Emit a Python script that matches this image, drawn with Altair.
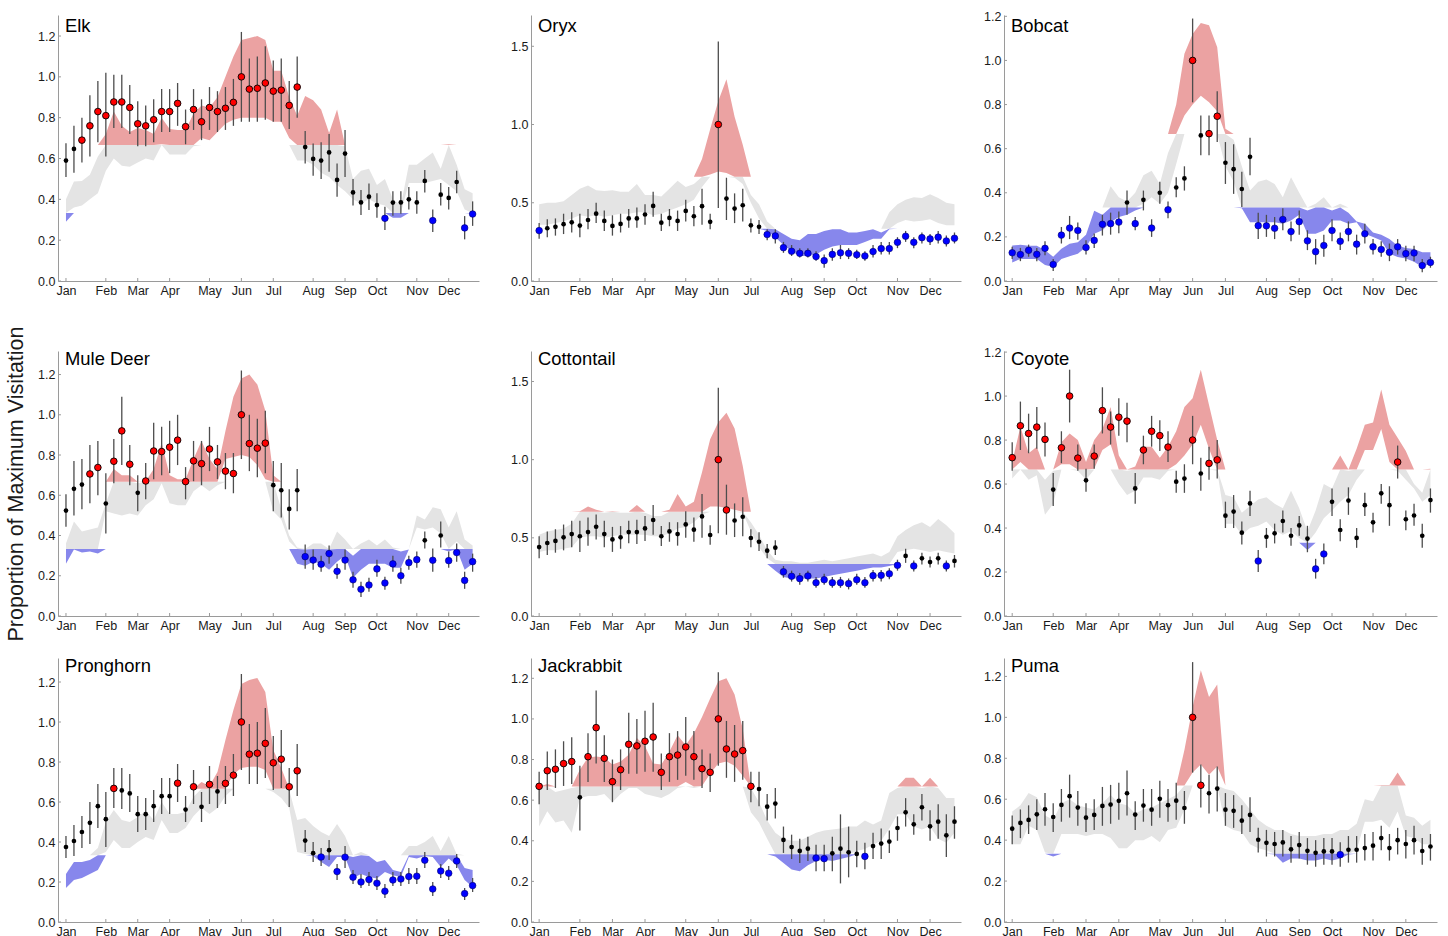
import altair as alt
import numpy as np
import pandas as pd

FONT = "Liberation Sans"
TEXT_COLOR = "#1a1a1a"
AXIS_COLOR = "#9a9a9a"
GREY_FILL = "#e4e4e4"
RED_FILL = "#eba2a2"
BLUE_FILL = "#8787ec"
BAR_COLOR = "#4d4d4d"

WEEKS = list(range(1, 53))
MONTHS = ["Jan", "Feb", "Mar", "Apr", "May", "Jun", "Jul", "Aug", "Sep", "Oct", "Nov", "Dec"]
MONTH_WEEKS = [1, 6, 10, 14, 19, 23, 27, 32, 36, 40, 45, 49]
X_MAX = 52.8
LOW_CUT = 1 / 3
HIGH_CUT = 2 / 3
Y_TICKS_FINE = [0.0, 0.2, 0.4, 0.6, 0.8, 1.0, 1.2]
Y_TICKS_COARSE = [0.0, 0.5, 1.0, 1.5]

# ---------------- Elk ----------------
ELK_RATE = [0.59, 0.647, 0.69, 0.76, 0.83, 0.81, 0.877, 0.877, 0.85, 0.77,
            0.76, 0.79, 0.83, 0.83, 0.87, 0.756, 0.84, 0.78, 0.85, 0.83,
            0.846, 0.875, 1.0, 0.94, 0.944, 0.97, 0.93, 0.935, 0.86, 0.95,
            0.656, 0.598, 0.59, 0.63, 0.495, 0.624, 0.434, 0.385, 0.413, 0.372,
            0.307, 0.384, 0.385, 0.40, 0.385, 0.49, 0.296, 0.423, 0.407, 0.485,
            0.26, 0.328]
ELK_ERR_LO = [0.51, 0.53, 0.58, 0.61, 0.68, 0.61, 0.75, 0.75, 0.72, 0.66,
              0.66, 0.68, 0.73, 0.73, 0.76, 0.67, 0.74, 0.69, 0.74, 0.73,
              0.74, 0.76, 0.78, 0.78, 0.78, 0.79, 0.78, 0.78, 0.745, 0.80,
              0.576, 0.516, 0.50, 0.535, 0.413, 0.51, 0.37, 0.323, 0.348, 0.31,
              0.25, 0.32, 0.33, 0.35, 0.33, 0.434, 0.24, 0.37, 0.35, 0.43,
              0.204, 0.27]
ELK_ERR_HI = [0.675, 0.76, 0.80, 0.91, 0.98, 1.02, 1.01, 1.01, 0.96, 0.88,
              0.86, 0.89, 0.94, 0.94, 0.97, 0.84, 0.94, 0.89, 0.95, 0.93,
              0.95, 0.99, 1.22, 1.09, 1.10, 1.15, 1.08, 1.09, 0.98, 1.10,
              0.735, 0.674, 0.68, 0.72, 0.576, 0.74, 0.50, 0.446, 0.478, 0.43,
              0.364, 0.44, 0.44, 0.46, 0.44, 0.544, 0.35, 0.48, 0.46, 0.54,
              0.318, 0.39]
ELK_BAND_LO = [0.29, 0.36, 0.37, 0.40, 0.43, 0.54, 0.60, 0.565, 0.56, 0.58,
               0.60, 0.59, 0.67, 0.62, 0.62, 0.62, 0.66, 0.70, 0.69, 0.73,
               0.77, 0.79, 0.80, 0.80, 0.80, 0.80, 0.78, 0.78, 0.70, 0.59,
               0.59, 0.57, 0.53, 0.51, 0.47, 0.44, 0.40, 0.38, 0.40, 0.38,
               0.37, 0.31, 0.31, 0.48, 0.48, 0.48, 0.49, 0.50, 0.47, 0.44,
               0.35, 0.33]
ELK_BAND_HI = [0.40, 0.487, 0.49, 0.52, 0.61, 0.72, 0.83, 0.76, 0.73, 0.75,
               0.74, 0.72, 0.80, 0.745, 0.74, 0.74, 0.82, 0.86, 0.85, 0.90,
               1.0, 1.1, 1.18, 1.19, 1.20, 1.18, 1.03, 1.03, 0.90, 0.81,
               0.906, 0.886, 0.84, 0.725, 0.84, 0.66, 0.50, 0.54, 0.55, 0.47,
               0.50, 0.40, 0.37, 0.57, 0.57, 0.60, 0.63, 0.55, 0.67, 0.57,
               0.45, 0.43]

# ---------------- Oryx ----------------
ORYX_RATE = [0.322, 0.337, 0.346, 0.363, 0.375, 0.354, 0.39, 0.43, 0.384, 0.352,
             0.365, 0.40, 0.40, 0.425, 0.48, 0.373, 0.403, 0.384, 0.448, 0.414,
             0.478, 0.378, 1.0, 0.527, 0.463, 0.484, 0.356, 0.346, 0.297, 0.288,
             0.213, 0.19, 0.177, 0.177, 0.156, 0.13, 0.17, 0.18, 0.177, 0.168,
             0.16, 0.188, 0.207, 0.207, 0.247, 0.286, 0.247, 0.277, 0.269, 0.28,
             0.256, 0.273]
ORYX_ERR_LO = [0.27, 0.28, 0.29, 0.30, 0.31, 0.28, 0.33, 0.37, 0.32, 0.29,
               0.31, 0.34, 0.34, 0.36, 0.41, 0.32, 0.35, 0.32, 0.38, 0.35,
               0.36, 0.33, 0.467, 0.39, 0.37, 0.38, 0.31, 0.30, 0.26, 0.24,
               0.18, 0.16, 0.15, 0.15, 0.13, 0.085, 0.13, 0.14, 0.14, 0.14,
               0.13, 0.15, 0.17, 0.17, 0.21, 0.25, 0.21, 0.24, 0.23, 0.24,
               0.22, 0.24]
ORYX_ERR_HI = [0.37, 0.395, 0.40, 0.43, 0.44, 0.43, 0.46, 0.50, 0.45, 0.42,
               0.43, 0.46, 0.47, 0.49, 0.57, 0.43, 0.46, 0.45, 0.52, 0.48,
               0.59, 0.43, 1.53, 0.66, 0.56, 0.59, 0.40, 0.39, 0.33, 0.33,
               0.25, 0.23, 0.21, 0.21, 0.19, 0.17, 0.21, 0.23, 0.21, 0.20,
               0.19, 0.23, 0.25, 0.25, 0.28, 0.32, 0.28, 0.31, 0.30, 0.32,
               0.29, 0.31]
ORYX_BAND_LO = [0.36, 0.36, 0.37, 0.38, 0.40, 0.42, 0.41, 0.42, 0.41, 0.42,
                0.43, 0.43, 0.44, 0.44, 0.42, 0.43, 0.45, 0.47, 0.49, 0.52,
                0.60, 0.68, 0.70, 0.69, 0.66, 0.62, 0.50, 0.40, 0.32, 0.28,
                0.23, 0.19, 0.16, 0.16, 0.17, 0.20, 0.22, 0.23, 0.23, 0.23,
                0.25, 0.27, 0.27, 0.33, 0.37, 0.39, 0.38, 0.385, 0.395, 0.37,
                0.356, 0.356]
ORYX_BAND_HI = [0.49, 0.50, 0.50, 0.51, 0.55, 0.59, 0.61, 0.58, 0.575, 0.58,
                0.57, 0.57, 0.62, 0.55, 0.55, 0.54, 0.59, 0.64, 0.60, 0.62,
                0.78, 0.97, 1.15, 1.29, 1.05, 0.87, 0.55, 0.49, 0.38, 0.33,
                0.30, 0.27, 0.26, 0.30, 0.30, 0.32, 0.33, 0.33, 0.31, 0.31,
                0.32, 0.33, 0.31, 0.44, 0.49, 0.52, 0.535, 0.53, 0.555, 0.53,
                0.50, 0.49]

# ---------------- Bobcat ----------------
BOBCAT_RATE = [0.128, 0.12, 0.139, 0.121, 0.148, 0.075, 0.208, 0.24, 0.229, 0.152,
               0.184, 0.257, 0.26, 0.267, 0.356, 0.26, 0.368, 0.24, 0.40, 0.323,
               0.424, 0.465, 1.0, 0.66, 0.668, 0.747, 0.536, 0.507, 0.417, 0.563,
               0.251, 0.25, 0.239, 0.279, 0.224, 0.269, 0.182, 0.133, 0.161, 0.229,
               0.18, 0.224, 0.167, 0.214, 0.155, 0.143, 0.13, 0.155, 0.124, 0.127,
               0.07, 0.084]
BOBCAT_ERR_LO = [0.10, 0.09, 0.11, 0.09, 0.117, 0.045, 0.17, 0.19, 0.187, 0.12,
                 0.15, 0.206, 0.21, 0.217, 0.30, 0.23, 0.32, 0.20, 0.35, 0.285,
                 0.38, 0.41, 0.81, 0.57, 0.57, 0.63, 0.44, 0.395, 0.335, 0.48,
                 0.19, 0.20, 0.19, 0.23, 0.18, 0.21, 0.14, 0.075, 0.11, 0.18,
                 0.14, 0.18, 0.12, 0.17, 0.12, 0.11, 0.09, 0.12, 0.09, 0.09,
                 0.04, 0.06]
BOBCAT_ERR_HI = [0.155, 0.15, 0.165, 0.15, 0.18, 0.10, 0.245, 0.295, 0.265, 0.185,
                 0.215, 0.30, 0.31, 0.315, 0.41, 0.29, 0.41, 0.28, 0.45, 0.36,
                 0.47, 0.52, 1.19, 0.75, 0.75, 0.86, 0.63, 0.62, 0.495, 0.65,
                 0.31, 0.30, 0.29, 0.33, 0.27, 0.32, 0.23, 0.19, 0.21, 0.28,
                 0.22, 0.27, 0.21, 0.26, 0.19, 0.18, 0.17, 0.19, 0.16, 0.16,
                 0.10, 0.11]
BOBCAT_BAND_LO = [0.084, 0.10, 0.10, 0.10, 0.072, 0.064, 0.10, 0.112, 0.124, 0.154,
                  0.214, 0.23, 0.266, 0.29, 0.30, 0.32, 0.35, 0.38, 0.35, 0.40,
                  0.53, 0.75, 0.80, 0.84, 0.81, 0.77, 0.52, 0.45, 0.33, 0.266,
                  0.266, 0.266, 0.266, 0.26, 0.274, 0.30, 0.214, 0.214, 0.229, 0.274,
                  0.274, 0.259, 0.266, 0.214, 0.199, 0.184, 0.124, 0.109, 0.102, 0.087,
                  0.064, 0.079]
BOBCAT_BAND_HI = [0.161, 0.164, 0.16, 0.16, 0.139, 0.11, 0.146, 0.169, 0.176, 0.21,
                  0.318, 0.30, 0.43, 0.38, 0.36, 0.40, 0.48, 0.50, 0.44, 0.58,
                  0.80, 1.03, 1.12, 1.17, 1.16, 1.06, 0.69, 0.64, 0.52, 0.41,
                  0.45, 0.46, 0.44, 0.38, 0.47, 0.40, 0.32, 0.35, 0.38, 0.32,
                  0.35, 0.31, 0.27, 0.26, 0.22, 0.21, 0.19, 0.16, 0.15, 0.145,
                  0.13, 0.13]

# ---------------- Mule Deer ----------------
MULE_RATE = [0.524, 0.632, 0.653, 0.706, 0.738, 0.559, 0.769, 0.92, 0.754, 0.612,
             0.671, 0.82, 0.817, 0.839, 0.874, 0.668, 0.771, 0.757, 0.83, 0.766,
             0.72, 0.708, 1.0, 0.857, 0.834, 0.859, 0.65, 0.625, 0.532, 0.625,
             0.295, 0.278, 0.257, 0.31, 0.222, 0.278, 0.18, 0.133, 0.154, 0.234,
             0.164, 0.259, 0.20, 0.265, 0.28, 0.376, 0.277, 0.40, 0.275, 0.315,
             0.177, 0.27]
MULE_ERR_LO = [0.443, 0.50, 0.53, 0.56, 0.60, 0.41, 0.66, 0.75, 0.65, 0.52,
               0.58, 0.68, 0.70, 0.71, 0.75, 0.58, 0.67, 0.65, 0.72, 0.68,
               0.63, 0.61, 0.78, 0.72, 0.69, 0.71, 0.52, 0.49, 0.43, 0.52,
               0.235, 0.23, 0.22, 0.26, 0.185, 0.23, 0.14, 0.095, 0.12, 0.195,
               0.13, 0.22, 0.16, 0.23, 0.24, 0.335, 0.22, 0.34, 0.24, 0.27,
               0.135, 0.22]
MULE_ERR_HI = [0.605, 0.77, 0.78, 0.85, 0.87, 0.71, 0.88, 1.09, 0.85, 0.70,
               0.76, 0.96, 0.94, 0.97, 1.00, 0.74, 0.87, 0.87, 0.94, 0.85,
               0.81, 0.81, 1.22, 1.0, 0.98, 1.02, 0.77, 0.76, 0.63, 0.73,
               0.355, 0.33, 0.30, 0.35, 0.26, 0.33, 0.22, 0.17, 0.19, 0.28,
               0.195, 0.30, 0.24, 0.30, 0.32, 0.42, 0.335, 0.47, 0.32, 0.36,
               0.22, 0.31]
MULE_BAND_LO = [0.26, 0.33, 0.315, 0.32, 0.31, 0.52, 0.51, 0.50, 0.51, 0.50,
                0.55, 0.58, 0.66, 0.56, 0.55, 0.55, 0.62, 0.65, 0.62, 0.65,
                0.78, 0.79, 0.80, 0.79, 0.75, 0.68, 0.52, 0.48, 0.37, 0.26,
                0.25, 0.27, 0.26, 0.23, 0.27, 0.30, 0.19, 0.23, 0.26, 0.26,
                0.26, 0.24, 0.24, 0.33, 0.44, 0.43, 0.44, 0.41, 0.32, 0.37,
                0.23, 0.26]
MULE_BAND_HI = [0.36, 0.47, 0.42, 0.43, 0.44, 0.56, 0.73, 0.70, 0.70, 0.66,
                0.67, 0.73, 0.86, 0.70, 0.68, 0.68, 0.78, 0.87, 0.78, 0.73,
                0.92, 1.09, 1.18, 1.20, 1.15, 1.02, 0.70, 0.53, 0.40, 0.34,
                0.33, 0.36, 0.36, 0.33, 0.42, 0.38, 0.30, 0.36, 0.38, 0.35,
                0.38, 0.34, 0.32, 0.33, 0.50, 0.48, 0.54, 0.53, 0.44, 0.52,
                0.38, 0.35]

# ---------------- Cottontail ----------------
COTTON_RATE = [0.441, 0.467, 0.48, 0.503, 0.524, 0.51, 0.537, 0.571, 0.524, 0.49,
               0.503, 0.537, 0.537, 0.56, 0.614, 0.51, 0.541, 0.524, 0.586, 0.552,
               0.637, 0.518, 1.0, 0.678, 0.611, 0.635, 0.499, 0.475, 0.418, 0.437,
               0.283, 0.254, 0.239, 0.256, 0.213, 0.232, 0.213, 0.213, 0.207, 0.232,
               0.213, 0.258, 0.26, 0.27, 0.324, 0.384, 0.32, 0.369, 0.345, 0.369,
               0.32, 0.352]
COTTON_ERR_LO = [0.37, 0.39, 0.405, 0.42, 0.44, 0.41, 0.45, 0.49, 0.44, 0.41,
                 0.43, 0.465, 0.46, 0.48, 0.52, 0.447, 0.475, 0.45, 0.50, 0.475,
                 0.50, 0.455, 0.53, 0.52, 0.505, 0.51, 0.44, 0.415, 0.37, 0.39,
                 0.245, 0.22, 0.20, 0.22, 0.18, 0.20, 0.18, 0.18, 0.17, 0.20,
                 0.18, 0.22, 0.22, 0.235, 0.29, 0.34, 0.285, 0.33, 0.31, 0.33,
                 0.285, 0.31]
COTTON_ERR_HI = [0.51, 0.54, 0.555, 0.585, 0.61, 0.61, 0.63, 0.65, 0.61, 0.57,
                 0.575, 0.61, 0.615, 0.64, 0.71, 0.575, 0.60, 0.60, 0.67, 0.63,
                 0.78, 0.58, 1.46, 0.84, 0.72, 0.76, 0.555, 0.535, 0.46, 0.485,
                 0.32, 0.29, 0.275, 0.29, 0.25, 0.27, 0.25, 0.25, 0.24, 0.27,
                 0.25, 0.295, 0.295, 0.305, 0.36, 0.43, 0.355, 0.405, 0.38, 0.405,
                 0.355, 0.39]
COTTON_BAND_LO = [0.41, 0.42, 0.42, 0.43, 0.44, 0.50, 0.51, 0.51, 0.50, 0.51,
                  0.52, 0.52, 0.52, 0.52, 0.51, 0.51, 0.53, 0.56, 0.57, 0.60,
                  0.65, 0.70, 0.70, 0.69, 0.68, 0.66, 0.54, 0.44, 0.37, 0.29,
                  0.25, 0.24, 0.24, 0.24, 0.24, 0.25, 0.26, 0.27, 0.28, 0.29,
                  0.30, 0.31, 0.31, 0.32, 0.41, 0.42, 0.43, 0.42, 0.41, 0.42,
                  0.41, 0.40]
COTTON_BAND_HI = [0.52, 0.54, 0.55, 0.56, 0.59, 0.67, 0.70, 0.68, 0.66, 0.67,
                  0.66, 0.66, 0.71, 0.66, 0.64, 0.64, 0.68, 0.78, 0.70, 0.73,
                  0.92, 1.13, 1.24, 1.30, 1.20, 0.96, 0.60, 0.52, 0.42, 0.36,
                  0.35, 0.35, 0.34, 0.34, 0.35, 0.36, 0.35, 0.36, 0.37, 0.38,
                  0.39, 0.40, 0.38, 0.41, 0.51, 0.55, 0.58, 0.60, 0.57, 0.62,
                  0.58, 0.53]

# ---------------- Coyote ----------------
COYOTE_RATE = [0.72, 0.865, 0.83, 0.859, 0.803, 0.575, 0.765, 1.0, 0.718, 0.617,
               0.727, 0.934, 0.859, 0.904, 0.886, 0.58, 0.755, 0.84, 0.82, 0.768,
               0.611, 0.625, 0.80, 0.648, 0.694, 0.71, 0.456, 0.475, 0.379, 0.512,
               0.25, 0.36, 0.376, 0.432, 0.365, 0.412, 0.352, 0.214, 0.282, 0.519,
               0.391, 0.525, 0.355, 0.504, 0.426, 0.558, 0.504, 0.70, 0.44, 0.457,
               0.365, 0.527]
COYOTE_ERR_LO = [0.66, 0.755, 0.74, 0.76, 0.725, 0.50, 0.695, 0.88, 0.66, 0.565,
                 0.67, 0.83, 0.78, 0.82, 0.79, 0.51, 0.69, 0.77, 0.75, 0.70,
                 0.56, 0.56, 0.69, 0.57, 0.62, 0.625, 0.40, 0.40, 0.325, 0.455,
                 0.20, 0.31, 0.33, 0.38, 0.32, 0.365, 0.29, 0.17, 0.235, 0.455,
                 0.34, 0.46, 0.31, 0.455, 0.38, 0.51, 0.41, 0.625, 0.39, 0.41,
                 0.31, 0.47]
COYOTE_ERR_HI = [0.79, 0.975, 0.92, 0.95, 0.88, 0.65, 0.84, 1.12, 0.78, 0.67,
                 0.78, 1.04, 0.93, 0.99, 0.97, 0.65, 0.82, 0.91, 0.89, 0.84,
                 0.66, 0.69, 0.91, 0.72, 0.77, 0.80, 0.52, 0.55, 0.43, 0.57,
                 0.30, 0.40, 0.42, 0.48, 0.40, 0.455, 0.41, 0.26, 0.33, 0.58,
                 0.44, 0.585, 0.40, 0.56, 0.47, 0.60, 0.59, 0.775, 0.48, 0.51,
                 0.42, 0.58]
COYOTE_BAND_LO = [0.625, 0.70, 0.62, 0.64, 0.46, 0.51, 0.69, 0.69, 0.66, 0.62,
                  0.67, 0.755, 0.78, 0.60, 0.55, 0.57, 0.63, 0.63, 0.62, 0.66,
                  0.69, 0.73, 0.78, 0.87, 0.76, 0.66, 0.42, 0.42, 0.37, 0.40,
                  0.41, 0.43, 0.39, 0.37, 0.385, 0.355, 0.30, 0.38, 0.445, 0.48,
                  0.52, 0.55, 0.62, 0.755, 0.755, 0.85, 0.70, 0.66, 0.62, 0.58,
                  0.52, 0.55]
COYOTE_BAND_HI = [0.70, 0.86, 0.74, 0.77, 0.62, 0.66, 0.79, 0.83, 0.80, 0.70,
                  0.80, 0.85, 0.95, 0.73, 0.66, 0.68, 0.77, 0.77, 0.72, 0.77,
                  0.84, 0.95, 0.99, 1.12, 0.96, 0.80, 0.55, 0.54, 0.47, 0.50,
                  0.53, 0.54, 0.51, 0.49, 0.57, 0.49, 0.385, 0.48, 0.60, 0.58,
                  0.73, 0.66, 0.76, 0.87, 0.88, 1.03, 0.87, 0.81, 0.75, 0.60,
                  0.56, 0.67]

# ---------------- Pronghorn ----------------
PRONG_RATE = [0.375, 0.405, 0.45, 0.496, 0.579, 0.514, 0.668, 0.658, 0.643, 0.539,
              0.539, 0.579, 0.629, 0.629, 0.694, 0.562, 0.676, 0.576, 0.688, 0.653,
              0.693, 0.734, 1.0, 0.839, 0.844, 0.893, 0.796, 0.814, 0.676, 0.756,
              0.407, 0.344, 0.325, 0.359, 0.252, 0.324, 0.224, 0.20, 0.212, 0.194,
              0.154, 0.21, 0.215, 0.227, 0.229, 0.309, 0.165, 0.255, 0.244, 0.305,
              0.142, 0.182]
PRONG_ERR_LO = [0.32, 0.33, 0.37, 0.39, 0.47, 0.375, 0.57, 0.565, 0.55, 0.45,
                0.46, 0.50, 0.54, 0.54, 0.60, 0.50, 0.59, 0.50, 0.59, 0.57,
                0.59, 0.63, 0.76, 0.69, 0.69, 0.72, 0.66, 0.67, 0.575, 0.63,
                0.35, 0.30, 0.28, 0.31, 0.21, 0.27, 0.19, 0.17, 0.18, 0.16,
                0.12, 0.18, 0.18, 0.19, 0.19, 0.27, 0.13, 0.22, 0.21, 0.27,
                0.11, 0.15]
PRONG_ERR_HI = [0.43, 0.485, 0.53, 0.60, 0.69, 0.65, 0.77, 0.77, 0.74, 0.63,
                0.62, 0.66, 0.72, 0.72, 0.79, 0.63, 0.76, 0.65, 0.78, 0.73,
                0.78, 0.84, 1.24, 0.99, 1.0, 1.07, 0.93, 0.96, 0.77, 0.89,
                0.46, 0.40, 0.37, 0.41, 0.29, 0.38, 0.26, 0.24, 0.25, 0.23,
                0.19, 0.25, 0.25, 0.27, 0.27, 0.35, 0.20, 0.29, 0.28, 0.34,
                0.17, 0.22]
PRONG_BAND_LO = [0.17, 0.21, 0.22, 0.24, 0.26, 0.35, 0.41, 0.37, 0.37, 0.40,
                 0.425, 0.41, 0.51, 0.445, 0.445, 0.47, 0.53, 0.57, 0.54, 0.57,
                 0.63, 0.74, 0.77, 0.776, 0.776, 0.76, 0.65, 0.62, 0.57, 0.35,
                 0.34, 0.33, 0.30, 0.275, 0.325, 0.325, 0.22, 0.24, 0.225, 0.217,
                 0.25, 0.234, 0.225, 0.325, 0.317, 0.33, 0.325, 0.275, 0.317, 0.284,
                 0.21, 0.175]
PRONG_BAND_HI = [0.24, 0.30, 0.30, 0.31, 0.37, 0.50, 0.56, 0.51, 0.50, 0.525,
                 0.556, 0.51, 0.60, 0.54, 0.54, 0.55, 0.626, 0.70, 0.68, 0.75,
                 0.91, 1.06, 1.19, 1.21, 1.22, 1.15, 0.86, 0.77, 0.66, 0.51,
                 0.52, 0.48, 0.45, 0.43, 0.49, 0.43, 0.325, 0.35, 0.33, 0.30,
                 0.31, 0.26, 0.25, 0.38, 0.38, 0.40, 0.43, 0.355, 0.43, 0.34,
                 0.27, 0.26]

# ---------------- Jackrabbit ----------------
JACK_RATE = [0.668, 0.745, 0.752, 0.78, 0.79, 0.614, 0.814, 0.957, 0.806, 0.691,
             0.75, 0.875, 0.867, 0.89, 0.911, 0.737, 0.814, 0.822, 0.862, 0.814,
             0.755, 0.737, 1.0, 0.852, 0.827, 0.844, 0.668, 0.655, 0.568, 0.583,
             0.404, 0.369, 0.35, 0.361, 0.315, 0.312, 0.338, 0.361, 0.343, 0.335,
             0.323, 0.374, 0.386, 0.396, 0.463, 0.54, 0.481, 0.565, 0.471, 0.494,
             0.427, 0.494]
JACK_ERR_LO = [0.58, 0.65, 0.66, 0.67, 0.68, 0.45, 0.69, 0.78, 0.69, 0.59,
               0.65, 0.73, 0.73, 0.74, 0.74, 0.65, 0.69, 0.70, 0.72, 0.70,
               0.66, 0.64, 0.77, 0.71, 0.69, 0.70, 0.59, 0.57, 0.50, 0.51,
               0.34, 0.31, 0.29, 0.30, 0.25, 0.25, 0.25, 0.19, 0.22, 0.27,
               0.26, 0.31, 0.31, 0.34, 0.40, 0.47, 0.43, 0.50, 0.40, 0.41,
               0.32, 0.41]
JACK_ERR_HI = [0.74, 0.84, 0.85, 0.89, 0.91, 0.77, 0.93, 1.14, 0.92, 0.80,
               0.85, 1.03, 1.0, 1.04, 1.08, 0.83, 0.93, 0.94, 1.01, 0.94,
               0.85, 0.83, 1.23, 0.99, 0.97, 0.99, 0.74, 0.74, 0.63, 0.66,
               0.47, 0.43, 0.41, 0.42, 0.38, 0.38, 0.42, 0.53, 0.47, 0.40,
               0.39, 0.44, 0.46, 0.45, 0.52, 0.61, 0.53, 0.63, 0.55, 0.58,
               0.53, 0.57]
JACK_BAND_LO = [0.47, 0.545, 0.49, 0.50, 0.44, 0.61, 0.62, 0.62, 0.63, 0.59,
                0.63, 0.66, 0.66, 0.63, 0.62, 0.61, 0.63, 0.66, 0.69, 0.66,
                0.67, 0.73, 0.78, 0.79, 0.77, 0.72, 0.54, 0.49, 0.41, 0.323,
                0.29, 0.258, 0.25, 0.28, 0.30, 0.307, 0.30, 0.31, 0.32, 0.35,
                0.36, 0.38, 0.40, 0.46, 0.53, 0.53, 0.47, 0.455, 0.47, 0.41,
                0.39, 0.44]
JACK_BAND_HI = [0.66, 0.68, 0.64, 0.65, 0.66, 0.75, 0.81, 0.815, 0.81, 0.775,
                0.79, 0.824, 0.906, 0.865, 0.78, 0.775, 0.84, 0.92, 0.87, 0.93,
                1.01, 1.10, 1.185, 1.20, 1.12, 0.95, 0.66, 0.59, 0.50, 0.44,
                0.41, 0.40, 0.40, 0.42, 0.44, 0.45, 0.455, 0.46, 0.47, 0.47,
                0.50, 0.48, 0.50, 0.635, 0.66, 0.71, 0.71, 0.66, 0.71, 0.66,
                0.61, 0.61]

# ---------------- Puma ----------------
PUMA_RATE = [0.456, 0.484, 0.499, 0.526, 0.551, 0.513, 0.572, 0.615, 0.559, 0.51,
             0.523, 0.567, 0.574, 0.592, 0.629, 0.525, 0.569, 0.549, 0.602, 0.571,
             0.593, 0.557, 1.0, 0.668, 0.629, 0.652, 0.549, 0.543, 0.495, 0.523,
             0.402, 0.387, 0.381, 0.389, 0.355, 0.376, 0.348, 0.338, 0.345, 0.345,
             0.329, 0.353, 0.353, 0.361, 0.373, 0.41, 0.361, 0.40, 0.381, 0.40,
             0.347, 0.369]
PUMA_ERR_LO = [0.38, 0.41, 0.43, 0.45, 0.47, 0.44, 0.49, 0.51, 0.47, 0.44,
               0.45, 0.47, 0.48, 0.50, 0.52, 0.45, 0.49, 0.47, 0.51, 0.49,
               0.50, 0.48, 0.73, 0.56, 0.53, 0.54, 0.47, 0.46, 0.43, 0.44,
               0.34, 0.32, 0.32, 0.32, 0.29, 0.31, 0.28, 0.27, 0.28, 0.28,
               0.27, 0.29, 0.29, 0.30, 0.30, 0.35, 0.30, 0.33, 0.31, 0.33,
               0.28, 0.30]
PUMA_ERR_HI = [0.52, 0.55, 0.57, 0.60, 0.63, 0.58, 0.65, 0.72, 0.64, 0.58,
               0.60, 0.66, 0.67, 0.68, 0.74, 0.59, 0.65, 0.65, 0.69, 0.65,
               0.68, 0.64, 1.27, 0.77, 0.72, 0.76, 0.63, 0.62, 0.57, 0.61,
               0.46, 0.45, 0.44, 0.45, 0.42, 0.44, 0.41, 0.40, 0.41, 0.41,
               0.39, 0.42, 0.42, 0.43, 0.44, 0.47, 0.43, 0.46, 0.45, 0.47,
               0.41, 0.43]
PUMA_BAND_LO = [0.38, 0.38, 0.47, 0.45, 0.34, 0.32, 0.43, 0.43, 0.43, 0.42,
                0.43, 0.43, 0.41, 0.36, 0.36, 0.40, 0.40, 0.42, 0.39, 0.45,
                0.46, 0.55, 0.73, 0.77, 0.72, 0.76, 0.47, 0.45, 0.44, 0.38,
                0.36, 0.35, 0.33, 0.29, 0.31, 0.31, 0.30, 0.30, 0.31, 0.30,
                0.31, 0.33, 0.35, 0.49, 0.49, 0.50, 0.46, 0.54, 0.42, 0.41,
                0.38, 0.38]
PUMA_BAND_HI = [0.54, 0.57, 0.63, 0.61, 0.52, 0.50, 0.58, 0.60, 0.57, 0.56,
                0.55, 0.58, 0.62, 0.58, 0.57, 0.53, 0.55, 0.56, 0.58, 0.60,
                0.62, 0.84, 1.05, 1.23, 1.10, 1.16, 0.65, 0.64, 0.60, 0.55,
                0.50, 0.47, 0.45, 0.45, 0.43, 0.42, 0.42, 0.42, 0.43, 0.43,
                0.45, 0.45, 0.48, 0.60, 0.59, 0.67, 0.67, 0.73, 0.52, 0.51,
                0.47, 0.50]

SPECIES = {
    "Elk": (ELK_RATE, ELK_ERR_LO, ELK_ERR_HI, ELK_BAND_LO, ELK_BAND_HI),
    "Oryx": (ORYX_RATE, ORYX_ERR_LO, ORYX_ERR_HI, ORYX_BAND_LO, ORYX_BAND_HI),
    "Bobcat": (BOBCAT_RATE, BOBCAT_ERR_LO, BOBCAT_ERR_HI, BOBCAT_BAND_LO, BOBCAT_BAND_HI),
    "Mule Deer": (MULE_RATE, MULE_ERR_LO, MULE_ERR_HI, MULE_BAND_LO, MULE_BAND_HI),
    "Cottontail": (COTTON_RATE, COTTON_ERR_LO, COTTON_ERR_HI, COTTON_BAND_LO, COTTON_BAND_HI),
    "Coyote": (COYOTE_RATE, COYOTE_ERR_LO, COYOTE_ERR_HI, COYOTE_BAND_LO, COYOTE_BAND_HI),
    "Pronghorn": (PRONG_RATE, PRONG_ERR_LO, PRONG_ERR_HI, PRONG_BAND_LO, PRONG_BAND_HI),
    "Jackrabbit": (JACK_RATE, JACK_ERR_LO, JACK_ERR_HI, JACK_BAND_LO, JACK_BAND_HI),
    "Puma": (PUMA_RATE, PUMA_ERR_LO, PUMA_ERR_HI, PUMA_BAND_LO, PUMA_BAND_HI),
}

for _name, _arrays in SPECIES.items():
    for _arr in _arrays:
        if len(_arr) != len(WEEKS):
            raise ValueError(f"{_name}: expected {len(WEEKS)} values, got {len(_arr)}")

MONTH_LABEL_EXPR = (
    "[" + ",".join(f"'{m}'" for m in MONTHS) + "]"
    + "[indexof([" + ",".join(str(w) for w in MONTH_WEEKS) + "], datum.value)]"
)

# Grid layout: panel columns/rows interleaved with empty gutters.
COL_WIDTHS = [421, 52, 430, 43, 433]
ROW_HEIGHTS = [266, 69.5, 265, 41.5, 264]
TICK_LEN = 3

PANELS = [
    # (name, y max, tick values, label baseline offset)
    [("Elk", 1.303, Y_TICKS_FINE, 16.5), ("Oryx", 1.70, Y_TICKS_COARSE, 16.5), ("Bobcat", 1.206, Y_TICKS_FINE, 16.5)],
    [("Mule Deer", 1.317, Y_TICKS_FINE, 13.7), ("Cottontail", 1.695, Y_TICKS_COARSE, 13.7), ("Coyote", 1.205, Y_TICKS_FINE, 13.7)],
    [("Pronghorn", 1.32, Y_TICKS_FINE, 13.8), ("Jackrabbit", 1.30, Y_TICKS_FINE, 13.8), ("Puma", 1.29, Y_TICKS_FINE, 13.8)],
]
Y_TITLE = "Proportion of Maximum Visitation"
SPACER_DATA = pd.DataFrame({"s": [0]})


def build_panel(name, y_max, y_ticks, label_y, width, height, y_title=None):
    rate, err_lo, err_hi, band_lo, band_hi = SPECIES[name]
    df = pd.DataFrame({
        "week": WEEKS, "rate": rate, "err_lo": err_lo, "err_hi": err_hi,
        "band_lo": band_lo, "band_hi": band_hi,
    })
    # split the null band into the part above, inside and below the thirds
    df["grey_lo"] = df["band_lo"].clip(LOW_CUT, HIGH_CUT)
    df["grey_hi"] = df["band_hi"].clip(LOW_CUT, HIGH_CUT)
    df["red_lo"] = df["band_lo"].clip(lower=HIGH_CUT)
    df["red_hi"] = df["band_hi"].clip(lower=HIGH_CUT)
    df["blue_lo"] = df["band_lo"].clip(upper=LOW_CUT)
    df["blue_hi"] = df["band_hi"].clip(upper=LOW_CUT)
    df["cls"] = np.where(df["rate"] > HIGH_CUT, "above",
                         np.where(df["rate"] < LOW_CUT, "below", "within"))

    x_scale = alt.Scale(domain=[0, X_MAX], nice=False, zero=False)
    y_scale = alt.Scale(domain=[0, y_max], nice=False)

    x_axis = alt.Axis(values=MONTH_WEEKS, labelExpr=MONTH_LABEL_EXPR, title=None,
                      grid=False, ticks=False, domainColor=AXIS_COLOR,
                      domainWidth=1, labelColor=TEXT_COLOR, labelFont=FONT,
                      labelFontSize=12.5, labelPadding=3, labelAngle=0,
                      labelFlush=False, labelOverlap=False)
    y_axis = alt.Axis(values=y_ticks, format=".1f", title=y_title, grid=False,
                      ticks=False, domainColor=AXIS_COLOR, domainWidth=1,
                      labelColor=TEXT_COLOR, labelFont=FONT, labelFontSize=12.5,
                      labelPadding=3, labelFlush=False, labelOverlap=False,
                      titleFont=FONT, titleFontSize=21.5, titleFontWeight="normal",
                      titleColor=TEXT_COLOR, titlePadding=10)

    base = alt.Chart(df)
    x_enc = alt.X("week:Q", scale=x_scale, axis=x_axis, title=None)

    def y_enc(field):
        return alt.Y(f"{field}:Q", scale=y_scale, axis=y_axis, title=y_title)

    grey = base.mark_area(color=GREY_FILL, opacity=1).encode(
        x=x_enc, y=y_enc("grey_lo"), y2="grey_hi:Q")
    red = base.mark_area(color=RED_FILL, opacity=1).encode(
        x=x_enc, y=y_enc("red_lo"), y2="red_hi:Q")
    blue = base.mark_area(color=BLUE_FILL, opacity=1).encode(
        x=x_enc, y=y_enc("blue_lo"), y2="blue_hi:Q")
    bars = base.mark_rule(color=BAR_COLOR, strokeWidth=1.3).encode(
        x=x_enc, y=y_enc("err_lo"), y2="err_hi:Q")
    within = base.transform_filter(alt.datum.cls == "within").mark_circle(
        size=22, opacity=1, color="#000000").encode(x=x_enc, y=y_enc("rate"))
    above = base.transform_filter(alt.datum.cls == "above").mark_circle(
        size=44, opacity=1, fill="#ff0000", stroke="#000000", strokeWidth=0.9
    ).encode(x=x_enc, y=y_enc("rate"))
    below = base.transform_filter(alt.datum.cls == "below").mark_circle(
        size=44, opacity=1, fill="#0000ff", stroke="#00006a", strokeWidth=0.6
    ).encode(x=x_enc, y=y_enc("rate"))

    # short inward tick marks along both axes
    x_ticks = alt.Chart(pd.DataFrame({"week": MONTH_WEEKS})).mark_rule(
        color=AXIS_COLOR, strokeWidth=1).encode(
        x=x_enc, y=alt.value(height), y2=alt.value(height - TICK_LEN))
    y_tick_marks = alt.Chart(pd.DataFrame({"tick": y_ticks})).mark_rule(
        color=AXIS_COLOR, strokeWidth=1).encode(
        y=y_enc("tick"), x=alt.value(0), x2=alt.value(TICK_LEN))

    label = alt.Chart(pd.DataFrame({"name": [name]})).mark_text(
        align="left", baseline="alphabetic", font=FONT, fontSize=18.4, color="#000000"
    ).encode(text="name:N", x=alt.value(7), y=alt.value(label_y))

    return alt.layer(grey, red, blue, bars, within, above, below,
                     x_ticks, y_tick_marks, label).properties(width=width, height=height)


def spacer(width, height):
    return alt.Chart(SPACER_DATA).mark_point(opacity=0).encode(
        x=alt.X("s:Q", axis=None), y=alt.Y("s:Q", axis=None)
    ).properties(width=width, height=height)


cells = []
for r, h in enumerate(ROW_HEIGHTS):
    for c, w in enumerate(COL_WIDTHS):
        if r % 2 == 0 and c % 2 == 0:
            name, y_max, ticks, label_y = PANELS[r // 2][c // 2]
            title = Y_TITLE if (r == 2 and c == 0) else None
            cells.append(build_panel(name, y_max, ticks, label_y, w, h, title))
        else:
            cells.append(spacer(w, h))

chart = alt.concat(*cells, columns=5, spacing=0, bounds="flush", align="each").properties(
    padding={"left": 5, "top": 10, "right": 2, "bottom": 0}
).configure(font=FONT).configure_view(strokeWidth=0)

chart.save("out.html", embed_options={"renderer": "svg", "actions": False})
